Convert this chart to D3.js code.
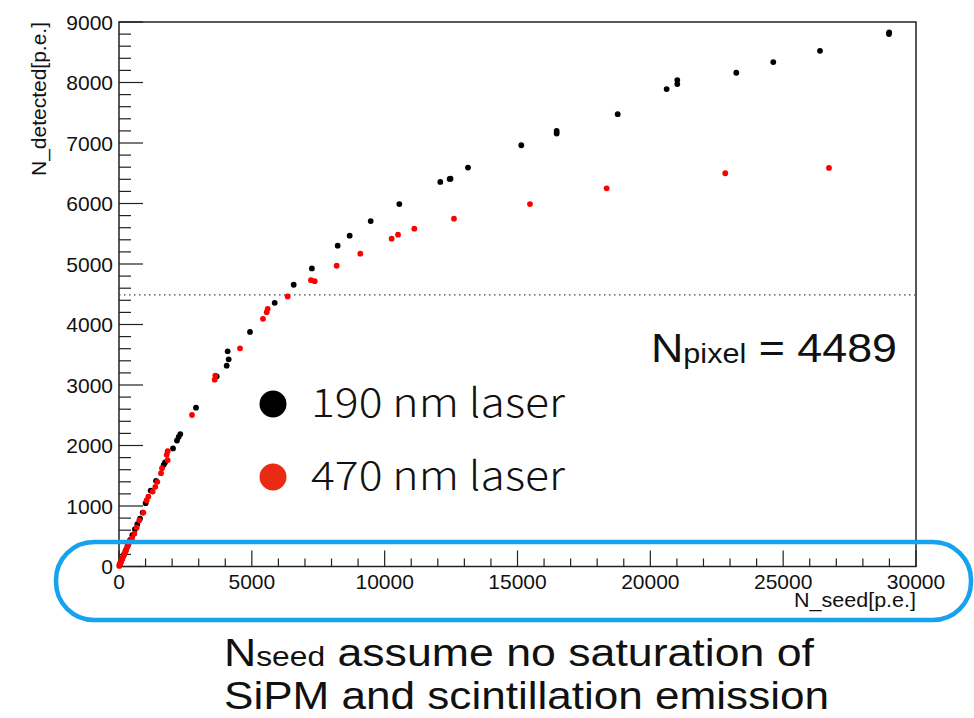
<!DOCTYPE html>
<html>
<head>
<meta charset="utf-8">
<script src="https://cdn.jsdelivr.net/npm/d3@7"></script>
<style>
  body { margin: 0; background: #fff; }
  svg { display: block; }
</style>
</head>
<body>
<svg id="chart"></svg>
<script>
// 190 nm laser (black)
var seed190 = [20, 60, 120, 180, 250, 330, 420, 500, 602, 689, 790, 890, 1004, 1192, 1393, 1682, 1731, 2033, 2183, 2247, 2308, 2898, 3677, 4053, 4128, 4090, 4931, 5860, 6575, 7260, 8231, 8683, 9474, 10552, 12094, 12447, 12480, 13136, 15143, 16474, 16474, 18771, 20614, 21015, 21015, 23236, 24628, 26386, 28983, 28990];
var det190  = [25, 70, 130, 190, 260, 350, 440, 520, 616, 699, 792, 891, 1046, 1255, 1416, 1681, 1719, 1951, 2083, 2144, 2189, 2625, 3143, 3320, 3425, 3557, 3878, 4359, 4657, 4927, 5303, 5468, 5710, 5991, 6356, 6406, 6410, 6594, 6963, 7157, 7200, 7477, 7891, 7974, 8040, 8161, 8338, 8524, 8800, 8830];

// 470 nm laser (red)
var seed470 = [10, 30, 50, 80, 110, 140, 170, 200, 240, 280, 320, 360, 400, 440, 489, 577, 665, 765, 916, 1041, 1104, 1267, 1367, 1443, 1581, 1619, 1832, 1795, 1832, 2748, 3601, 3626, 4555, 5420, 5559, 5597, 6349, 7227, 7366, 8193, 9083, 10263, 10502, 11116, 12609, 15470, 18356, 22821, 26724];
var det470  = [10, 35, 55, 85, 115, 150, 180, 210, 245, 290, 330, 370, 410, 430, 467, 543, 643, 765, 891, 1096, 1156, 1239, 1317, 1399, 1543, 1626, 1759, 1846, 1907, 2504, 3088, 3155, 3607, 4094, 4203, 4259, 4463, 4733, 4716, 4971, 5170, 5419, 5485, 5584, 5750, 5991, 6251, 6500, 6588];

var xTicks = [0, 5000, 10000, 15000, 20000, 25000, 30000];
var yTicks = [0, 1000, 2000, 3000, 4000, 5000, 6000, 7000, 8000, 9000];
var nPixel = 4489;

var dim = { width: 974, height: 718 };
var margin = { left: 119, right: 58, top: 22, bottom: 152 };

var svg = d3.select("#chart")
    .attr("width", dim.width)
    .attr("height", dim.height);

var xScale = d3.scaleLinear()
    .domain([0, 30000])
    .range([margin.left, dim.width - margin.right]);

var yScale = d3.scaleLinear()
    .domain([0, 9000])
    .range([dim.height - margin.bottom + 0.5, margin.top]);

var axisFont = "'Liberation Sans', Arial, sans-serif";
var noteFont = "'Noto Sans CJK JP', 'Noto Sans', sans-serif";

// frame
svg.append("rect")
    .attr("x", xScale(0)).attr("y", yScale(9000))
    .attr("width", xScale(30000) - xScale(0))
    .attr("height", yScale(0) - yScale(9000))
    .attr("fill", "none").attr("stroke", "#222").attr("stroke-width", 1.5);

// ticks inside the frame, ROOT style
var gx = svg.append("g").attr("transform", "translate(0," + yScale(0) + ")");
gx.selectAll("line.tk")
    .data(d3.range(0, 30001, 1000)).enter()
    .append("line")
    .attr("x1", d => xScale(d)).attr("x2", d => xScale(d))
    .attr("y1", 0).attr("y2", d => d % 5000 === 0 ? -16 : -8)
    .attr("stroke", "#222").attr("stroke-width", 1.2);
gx.selectAll("text")
    .data(xTicks).enter()
    .append("text")
    .attr("x", d => xScale(d)).attr("y", 22)
    .attr("text-anchor", "middle")
    .attr("font-family", axisFont).attr("font-size", 21)
    .attr("fill", "#111")
    .text(d => d);

var gy = svg.append("g").attr("transform", "translate(" + xScale(0) + ",0)");
gy.selectAll("line.tk")
    .data(d3.range(0, 9001, 200)).enter()
    .append("line")
    .attr("y1", d => yScale(d)).attr("y2", d => yScale(d))
    .attr("x1", 0).attr("x2", d => d % 1000 === 0 ? 24 : 12)
    .attr("stroke", "#222").attr("stroke-width", 1.2);
gy.selectAll("text")
    .data(yTicks).enter()
    .append("text")
    .attr("x", -6).attr("y", d => yScale(d) + 7.5)
    .attr("text-anchor", "end")
    .attr("font-family", axisFont).attr("font-size", 21)
    .attr("fill", "#111")
    .text(d => d);

// axis titles
svg.append("text")
    .attr("x", xScale(30000)).attr("y", 607)
    .attr("text-anchor", "end")
    .attr("font-family", axisFont).attr("font-size", 20)
    .attr("textLength", 122).attr("lengthAdjust", "spacingAndGlyphs")
    .attr("fill", "#111")
    .text("N_seed[p.e.]");

svg.append("text")
    .attr("transform", "translate(46," + yScale(9000) + ") rotate(-90)")
    .attr("text-anchor", "end")
    .attr("font-family", axisFont).attr("font-size", 20)
    .attr("textLength", 154).attr("lengthAdjust", "spacingAndGlyphs")
    .attr("fill", "#111")
    .text("N_detected[p.e.]");

// N_pixel line
svg.append("line")
    .attr("x1", xScale(0)).attr("x2", xScale(30000))
    .attr("y1", yScale(nPixel)).attr("y2", yScale(nPixel))
    .attr("stroke", "#444").attr("stroke-width", 1.2)
    .attr("stroke-dasharray", "1.5,3.5");

// points
var pts190 = seed190.map((s, i) => ({ x: s, y: det190[i] }));
var pts470 = seed470.map((s, i) => ({ x: s, y: det470[i] }));

svg.append("g").selectAll("circle")
    .data(pts190).enter()
    .append("circle")
    .attr("cx", d => xScale(d.x)).attr("cy", d => yScale(d.y))
    .attr("r", 2.9).attr("fill", "#000");

svg.append("g").selectAll("circle")
    .data(pts470).enter()
    .append("circle")
    .attr("cx", d => xScale(d.x)).attr("cy", d => yScale(d.y))
    .attr("r", 2.9).attr("fill", "#ff0000");

// legend
var legend = [
    { label: "190 nm laser", color: "#000", y: 404 },
    { label: "470 nm laser", color: "#ea2a14", y: 477 }
];
var lg = svg.append("g").selectAll("g").data(legend).enter().append("g");
lg.append("circle")
    .attr("cx", 273).attr("cy", d => d.y).attr("r", 13.5)
    .attr("fill", d => d.color);
lg.append("text")
    .attr("x", 311).attr("y", d => d.y + 13)
    .attr("font-family", noteFont).attr("font-size", 40)
    .attr("font-weight", 300)
    .attr("textLength", 254).attr("lengthAdjust", "spacingAndGlyphs")
    .attr("fill", "#111")
    .text(d => d.label);

// N_pixel annotation
var np = svg.append("text")
    .attr("x", 651).attr("y", 362)
    .attr("font-family", axisFont).attr("font-size", 41)
    .attr("textLength", 246).attr("lengthAdjust", "spacingAndGlyphs")
    .attr("fill", "#111");
np.append("tspan").text("N");
np.append("tspan").attr("font-size", 28).attr("dy", 1).text("pixel");
np.append("tspan").attr("dy", -1).text(" = " + nPixel);

// highlight around x axis
svg.append("rect")
    .attr("x", 56).attr("y", 542)
    .attr("width", 915).attr("height", 78)
    .attr("rx", 38).attr("ry", 38)
    .attr("fill", "none").attr("stroke", "#16a2ee").attr("stroke-width", 4.5);

// note below (Liberation has a compact line box, so the two lines don't collide)
var note1 = svg.append("text")
    .attr("x", 224).attr("y", 666)
    .attr("font-family", axisFont).attr("font-size", 38)
    .attr("textLength", 590).attr("lengthAdjust", "spacingAndGlyphs")
    .attr("fill", "#111");
note1.append("tspan").text("N");
note1.append("tspan").attr("font-size", 27).text("seed");
note1.append("tspan").text(" assume no saturation of");

svg.append("text")
    .attr("x", 224).attr("y", 709)
    .attr("font-family", axisFont).attr("font-size", 38)
    .attr("textLength", 605).attr("lengthAdjust", "spacingAndGlyphs")
    .attr("fill", "#111")
    .text("SiPM and scintillation emission");
</script>
</body>
</html>
